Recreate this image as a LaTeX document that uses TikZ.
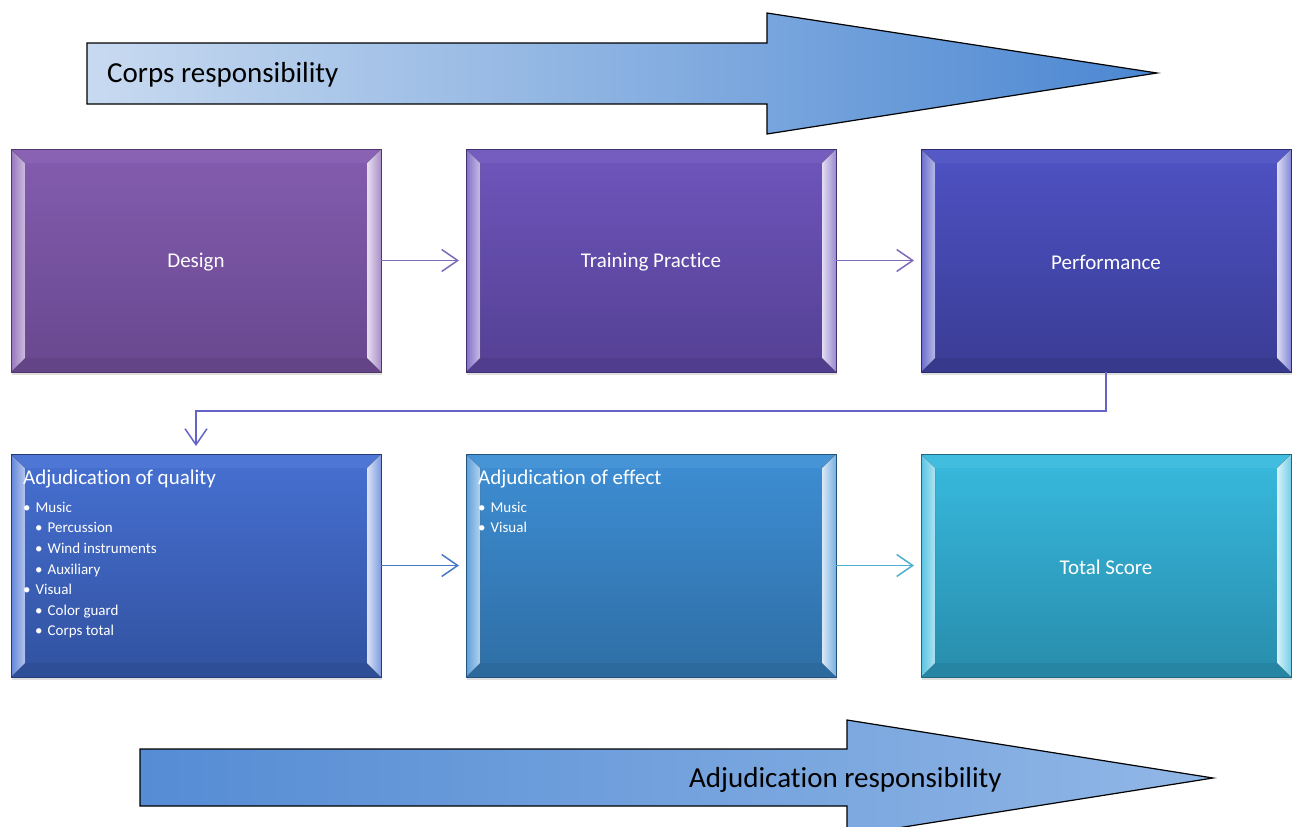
\documentclass[tikz,border=0pt]{standalone}
\usepackage{fontspec}
\setmainfont{Carlito}[Ligatures=NoCommon]
\usetikzlibrary{arrows.meta,shadows}
\definecolor{cArrowL}{RGB}{200,218,240}
\definecolor{cArrowR}{RGB}{75,135,210}
\definecolor{cArrow2L}{RGB}{85,140,212}
\definecolor{cArrow2R}{RGB}{145,183,230}
\definecolor{dTop}{RGB}{132,92,176}
\definecolor{dBot}{RGB}{104,72,142}
\definecolor{dEdge}{RGB}{80,55,110}
\definecolor{tTop}{RGB}{110,86,188}
\definecolor{tBot}{RGB}{84,64,148}
\definecolor{tEdge}{RGB}{62,48,115}
\definecolor{pTop}{RGB}{78,82,196}
\definecolor{pBot}{RGB}{58,60,148}
\definecolor{pEdge}{RGB}{42,44,112}
\definecolor{qTop}{RGB}{70,112,210}
\definecolor{qBot}{RGB}{50,82,160}
\definecolor{qEdge}{RGB}{36,60,120}
\definecolor{eTop}{RGB}{62,142,212}
\definecolor{eBot}{RGB}{46,110,165}
\definecolor{eEdge}{RGB}{34,82,125}
\definecolor{sTop}{RGB}{56,186,222}
\definecolor{sBot}{RGB}{40,140,172}
\definecolor{sEdge}{RGB}{30,105,130}
\definecolor{cOne}{RGB}{125,105,185}
\definecolor{cElbow}{RGB}{100,100,200}
\definecolor{cTwo}{RGB}{70,120,200}
\definecolor{cThree}{RGB}{75,175,205}
\newcommand\bevelbox[6]{%
  \node[draw=#6, line width=0.8pt, top color=#4, bottom color=#5,
        minimum width=370pt, minimum height=223pt, inner sep=0pt, outer sep=0pt,
        drop shadow={opacity=0.25,shadow xshift=1pt,shadow yshift=-3pt}] (#1) at (#2,#3) {};
  % top bevel
  \fill[#4!96!white] (#1.north west) -- ([shift={(14,14)}]#1.north west) -- ([shift={(-14,14)}]#1.north east) -- (#1.north east) -- cycle;
  % bottom bevel
  \fill[#5!95!black] (#1.south west) -- ([shift={(14,-14)}]#1.south west) -- ([shift={(-14,-14)}]#1.south east) -- (#1.south east) -- cycle;
  % left bevel
  \fill[left color=#4!85!white, right color=#4!40!white] (#1.north west) -- ([shift={(14,14)}]#1.north west) -- ([shift={(14,-14)}]#1.south west) -- (#1.south west) -- cycle;
  % right bevel
  \fill[left color=#4!20!white, right color=#4!70!white] (#1.north east) -- ([shift={(-14,14)}]#1.north east) -- ([shift={(-14,-14)}]#1.south east) -- (#1.south east) -- cycle;
  \draw[#6, line width=0.8pt] (#1.north west) rectangle (#1.south east);
}
\tikzset{
  boxtext/.style={text=white, font=\fontsize{21}{24}\selectfont, inner sep=0pt, yshift=-2pt},
  titletext/.style={text=white, font=\fontsize{21}{24}\selectfont, inner sep=0pt, anchor=base west},
  itemtext/.style={text=white, font=\fontsize{15}{18}\selectfont, inner sep=0pt, anchor=base west},
  conn/.style={line width=1.5pt, -{Straight Barb[length=16pt,width=22pt,line width=1.5pt]}},
  bigtext/.style={text=black, font=\fontsize{29}{32}\selectfont, inner sep=0pt},
}
\begin{document}
\begin{tikzpicture}[x=1pt,y=-1pt]
\fill[white] (0,0) rectangle (1299,827);
\useasboundingbox (0,0) rectangle (1299,827);
% big arrows
\draw[line width=1.2pt, left color=cArrowL, right color=cArrowR]
  (87,43) -- (767,43) -- (767,13) -- (1157,73) -- (767,134) -- (767,104) -- (87,104) -- cycle;
\node[bigtext, anchor=west] (corps) at (107,75) {Corps responsibility};
\draw[line width=1.2pt, left color=cArrow2L, right color=cArrow2R]
  (140,749) -- (847,749) -- (847,720) -- (1213,778) -- (847,836) -- (847,806) -- (140,806) -- cycle;
\node[bigtext, anchor=west] (adjresp) at (689,780) {Adjudication responsibility};
% boxes
\bevelbox{design}{196}{260.5}{dTop}{dBot}{dEdge}
\bevelbox{training}{651}{260.5}{tTop}{tBot}{tEdge}
\bevelbox{perf}{1106}{260.5}{pTop}{pBot}{pEdge}
\bevelbox{adjq}{196}{565.5}{qTop}{qBot}{qEdge}
\bevelbox{adje}{651}{565.5}{eTop}{eBot}{eEdge}
\bevelbox{total}{1106}{565.5}{sTop}{sBot}{sEdge}
% texts
\node[boxtext] (tdesign) at (design) {Design};
\node[boxtext] (ttraining) at (training) {Training Practice};
\node[boxtext] (tperf) at (perf) {Performance};
\node[boxtext] (ttotal) at (total) {Total Score};
\node[titletext] (q0) at (23,484) {Adjudication of quality};
\node[itemtext] (q1) at (23,512) {\textbullet\hspace{5pt}Music};
\node[itemtext] (q2) at (35,532) {\textbullet\hspace{5pt}Percussion};
\node[itemtext] (q3) at (35,553) {\textbullet\hspace{5pt}Wind instruments};
\node[itemtext] (q4) at (35,574) {\textbullet\hspace{5pt}Auxiliary};
\node[itemtext] (q5) at (23,594) {\textbullet\hspace{5pt}Visual};
\node[itemtext] (q6) at (35,615) {\textbullet\hspace{5pt}Color guard};
\node[itemtext] (q7) at (35,635) {\textbullet\hspace{5pt}Corps total};
\node[titletext] (e0) at (478,484) {Adjudication of effect};
\node[itemtext] (e1) at (478,512) {\textbullet\hspace{5pt}Music};
\node[itemtext] (e2) at (478,532) {\textbullet\hspace{5pt}Visual};
% connectors
\draw[conn, cOne, shorten >=7pt] (design.east) -- (training.west);
\draw[conn, cOne, shorten >=7pt] (training.east) -- (perf.west);
\draw[conn, cElbow, line width=1.3pt, shorten >=8pt] (perf.south) -- ++(0,39) -| (adjq.north);
\draw[conn, cTwo, shorten >=7pt] (adjq.east) -- (adje.west);
\draw[conn, cThree, shorten >=7pt] (adje.east) -- (total.west);
\end{tikzpicture}
\end{document}
